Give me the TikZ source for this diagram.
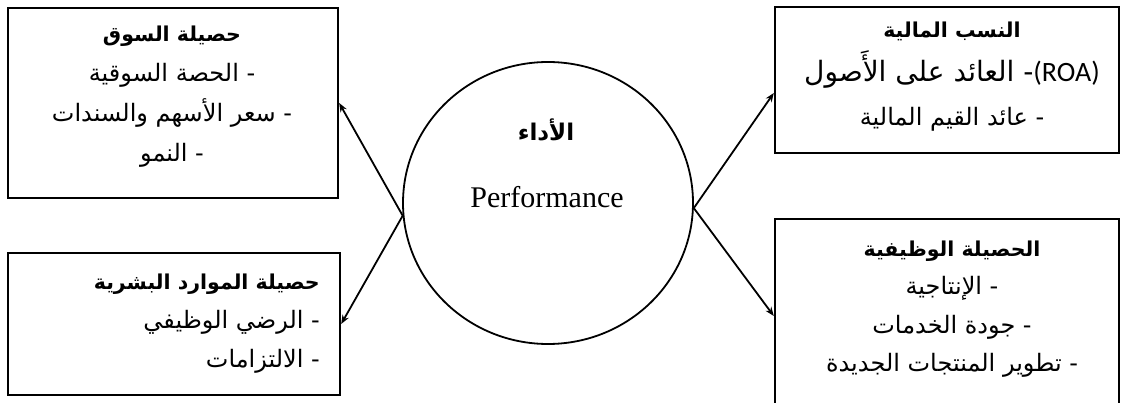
\documentclass[tikz,border=0pt]{standalone}
\usepackage{fontspec}
\setmainfont{Liberation Serif}
\newfontfamily\arabicfont[Script=Arabic]{DejaVu Sans}
\newfontfamily\latinsans{Carlito}
\TeXXeTstate=1
\usetikzlibrary{shapes.geometric,arrows.meta}
\newcommand{\AR}[1]{\beginR #1\endR}
\newcommand{\ttl}[1]{{\bfseries\fontsize{20.5}{40}\selectfont\AR{#1}}}
\tikzset{
  boxnode/.style={draw=black, line width=2.4pt, rectangle, inner sep=0pt, fill=none},
  txtnode/.style={inner sep=0pt, align=center, font=\arabicfont\fontsize{24}{40}\selectfont},
  perfnode/.style={draw=black, line width=1.8pt, ellipse, inner sep=0pt, minimum width=290pt, minimum height=282pt},
  conn/.style={line width=1.8pt, -{Stealth[length=9pt,width=7pt]}}
}
\begin{document}
\begin{tikzpicture}[x=1pt,y=-1pt]
\useasboundingbox (0,0) rectangle (1121,403);
% boxes
\node[boxnode, minimum width=330pt, minimum height=190pt] (tl) at (173,103) {};
\node[boxnode, minimum width=332pt, minimum height=142pt] (bl) at (174,324) {};
\node[boxnode, minimum width=344pt, minimum height=146pt] (tr) at (947,80) {};
\node[boxnode, minimum width=344pt, minimum height=186pt] (br) at (947,312) {};
% circle
\node[perfnode] (perf) at (548,203) {};
\node[font=\arabicfont\bfseries\fontsize{23}{26}\selectfont, inner sep=0pt] (ada) at (546,130) {\AR{الأداء}};
\node[font=\fontsize{30}{36}\selectfont, inner sep=0pt] (perfen) at (547,197) {Performance};
% texts
\node[txtnode] (tltext) at (172,97) {\ttl{حصيلة السوق}\\\AR{- الحصة السوقية}\\\AR{- سعر الأسهم والسندات}\\\AR{- النمو}};
\node[txtnode, align=right, anchor=east, font=\arabicfont\fontsize{24}{39}\selectfont] (bltext) at (320,324) {\ttl{حصيلة الموارد البشرية}\\\AR{- الرضي الوظيفي}\\\AR{- الالتزامات}};
\node[txtnode, font=\arabicfont\fontsize{24}{44}\selectfont] (trtext) at (952,77) {\ttl{النسب المالية}\\{\fontsize{28}{44}\selectfont\AR{\beginL{\latinsans(ROA)}\endL{}- العائد على الأَصول}}\\\AR{- عائد القيم المالية}};
\node[txtnode, font=\arabicfont\fontsize{24}{38.5}\selectfont] (brtext) at (952,309) {\ttl{الحصيلة الوظيفية}\\\AR{- الإنتاجية}\\\AR{- جودة الخدمات}\\\AR{- تطوير المنتجات الجديدة}};
% connectors
\draw[conn] (perf.185) -- (tl.east);
\draw[conn] (perf.185) -- (bl.east);
\draw[conn] (perf.358) -- ([yshift=-13pt]tr.west);
\draw[conn] (perf.358) -- ([yshift=-4pt]br.west);
\end{tikzpicture}
\end{document}
